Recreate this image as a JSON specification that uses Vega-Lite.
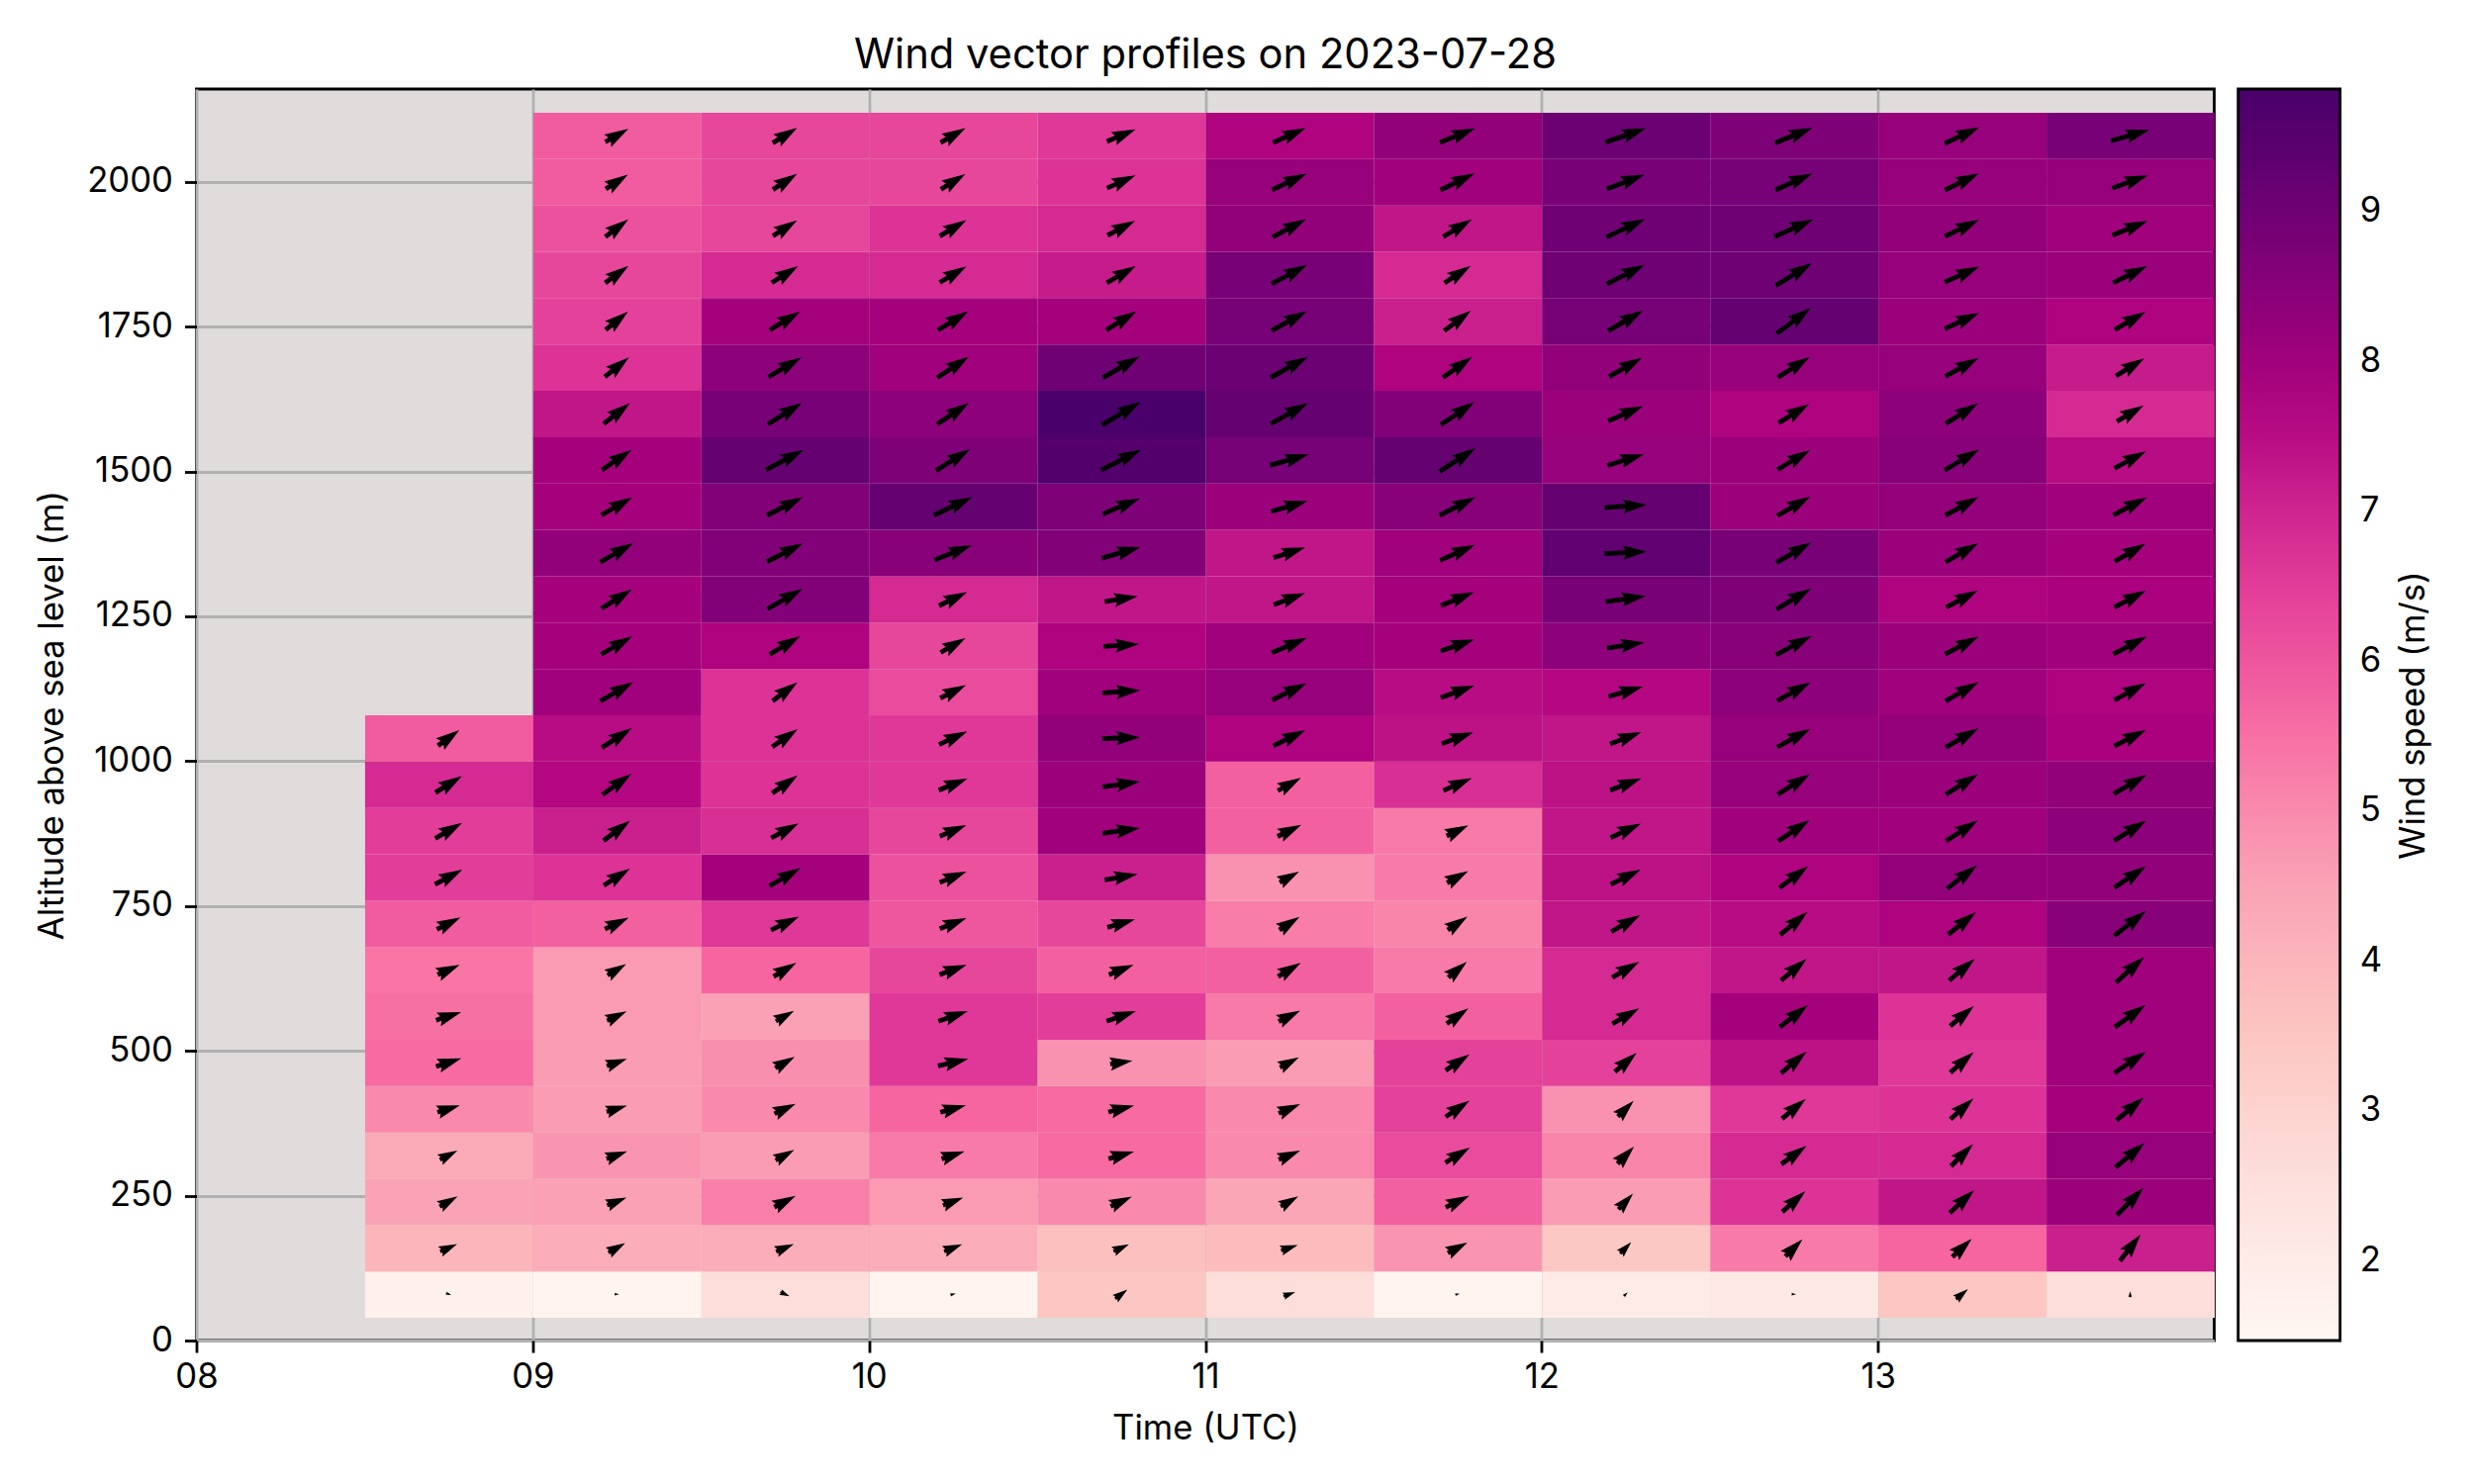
{
"$schema": "https://vega.github.io/schema/vega-lite/v6.json",
"width": 2039, "height": 1265,
"autosize": {"type": "none"},
"padding": {"left": 198.5, "top": 90, "right": 262.5, "bottom": 145},
"background": "white",
"config": {
  "font": "Inter",
  "view": {"fill": "#e0dcdc", "stroke": "black", "strokeWidth": 2.8},
  "axis": {"labelFontSize": 34.7, "titleFontSize": 34.7, "titleFontWeight": "normal", "labelColor": "black", "titleColor": "black", "tickColor": "black", "tickWidth": 2.8, "tickSize": 12, "domain": false, "gridColor": "#b0b0b0", "gridWidth": 2.8, "labelFlush": false, "labelOverlap": false, "zindex": 0},
  "legend": {"labelFontSize": 34.7, "titleFontSize": 34.7, "titleFontWeight": "normal", "labelColor": "black", "titleColor": "black"}
},
"title": {"text": "Wind vector profiles on 2023-07-28", "fontSize": 41.7, "fontWeight": "normal", "anchor": "middle", "frame": "group", "offset": 21, "dy": 42, "baseline": "alphabetic", "color": "black"},
"resolve": {"axis": {"y": "independent"}},
"data": {"values": [
{"hour":8.75,"alt":80,"speed":1.8,"dir":290,"vec":1.2},
{"hour":8.75,"alt":160,"speed":4.0,"dir":246,"vec":4.0},
{"hour":8.75,"alt":240,"speed":4.5,"dir":240,"vec":4.5},
{"hour":8.75,"alt":320,"speed":4.3,"dir":242,"vec":4.3},
{"hour":8.75,"alt":400,"speed":5.0,"dir":253,"vec":5.0},
{"hour":8.75,"alt":480,"speed":5.6,"dir":252,"vec":5.6},
{"hour":8.75,"alt":560,"speed":5.5,"dir":252,"vec":5.5},
{"hour":8.75,"alt":640,"speed":5.4,"dir":246,"vec":5.4},
{"hour":8.75,"alt":720,"speed":5.9,"dir":243,"vec":5.9},
{"hour":8.75,"alt":800,"speed":6.5,"dir":242,"vec":6.5},
{"hour":8.75,"alt":880,"speed":6.5,"dir":240,"vec":6.5},
{"hour":8.75,"alt":960,"speed":6.9,"dir":238,"vec":6.9},
{"hour":8.75,"alt":1040,"speed":5.9,"dir":234,"vec":5.9},
{"hour":9.25,"alt":80,"speed":1.6,"dir":270,"vec":1.0},
{"hour":9.25,"alt":160,"speed":4.2,"dir":240,"vec":4.2},
{"hour":9.25,"alt":240,"speed":4.55,"dir":248,"vec":4.55},
{"hour":9.25,"alt":320,"speed":4.8,"dir":250,"vec":4.8},
{"hour":9.25,"alt":400,"speed":4.65,"dir":253,"vec":4.65},
{"hour":9.25,"alt":480,"speed":4.65,"dir":250,"vec":4.65},
{"hour":9.25,"alt":560,"speed":4.7,"dir":244,"vec":4.7},
{"hour":9.25,"alt":640,"speed":4.7,"dir":239,"vec":4.7},
{"hour":9.25,"alt":720,"speed":5.8,"dir":244,"vec":5.8},
{"hour":9.25,"alt":800,"speed":6.7,"dir":237,"vec":6.7},
{"hour":9.25,"alt":880,"speed":7.1,"dir":233,"vec":7.1},
{"hour":9.25,"alt":960,"speed":7.6,"dir":234,"vec":7.6},
{"hour":9.25,"alt":1040,"speed":7.5,"dir":237,"vec":7.5},
{"hour":9.25,"alt":1120,"speed":8.0,"dir":240,"vec":8.0},
{"hour":9.25,"alt":1200,"speed":7.9,"dir":240,"vec":7.9},
{"hour":9.25,"alt":1280,"speed":7.9,"dir":238,"vec":7.9},
{"hour":9.25,"alt":1360,"speed":8.3,"dir":240,"vec":8.3},
{"hour":9.25,"alt":1440,"speed":7.9,"dir":240,"vec":7.9},
{"hour":9.25,"alt":1520,"speed":7.9,"dir":236,"vec":7.9},
{"hour":9.25,"alt":1600,"speed":7.3,"dir":232,"vec":7.3},
{"hour":9.25,"alt":1680,"speed":6.7,"dir":231,"vec":6.7},
{"hour":9.25,"alt":1760,"speed":6.4,"dir":231,"vec":6.4},
{"hour":9.25,"alt":1840,"speed":6.3,"dir":234,"vec":6.3},
{"hour":9.25,"alt":1920,"speed":6.1,"dir":233,"vec":6.1},
{"hour":9.25,"alt":2000,"speed":5.9,"dir":237,"vec":5.9},
{"hour":9.25,"alt":2080,"speed":5.9,"dir":240,"vec":5.9},
{"hour":9.75,"alt":80,"speed":2.6,"dir":295,"vec":2.2},
{"hour":9.75,"alt":160,"speed":4.2,"dir":247,"vec":4.2},
{"hour":9.75,"alt":240,"speed":5.2,"dir":242,"vec":5.2},
{"hour":9.75,"alt":320,"speed":4.65,"dir":241,"vec":4.65},
{"hour":9.75,"alt":400,"speed":5.0,"dir":245,"vec":5.0},
{"hour":9.75,"alt":480,"speed":4.9,"dir":240,"vec":4.9},
{"hour":9.75,"alt":560,"speed":4.55,"dir":240,"vec":4.55},
{"hour":9.75,"alt":640,"speed":5.7,"dir":239,"vec":5.7},
{"hour":9.75,"alt":720,"speed":6.6,"dir":244,"vec":6.6},
{"hour":9.75,"alt":800,"speed":7.9,"dir":240,"vec":7.9},
{"hour":9.75,"alt":880,"speed":6.8,"dir":242,"vec":6.8},
{"hour":9.75,"alt":960,"speed":6.7,"dir":235,"vec":6.7},
{"hour":9.75,"alt":1040,"speed":6.7,"dir":235,"vec":6.7},
{"hour":9.75,"alt":1120,"speed":6.7,"dir":233,"vec":6.7},
{"hour":9.75,"alt":1200,"speed":7.7,"dir":239,"vec":7.7},
{"hour":9.75,"alt":1280,"speed":8.6,"dir":240,"vec":8.6},
{"hour":9.75,"alt":1360,"speed":8.6,"dir":243,"vec":8.6},
{"hour":9.75,"alt":1440,"speed":8.6,"dir":243,"vec":8.6},
{"hour":9.75,"alt":1520,"speed":9.2,"dir":242,"vec":9.2},
{"hour":9.75,"alt":1600,"speed":8.8,"dir":238,"vec":8.8},
{"hour":9.75,"alt":1680,"speed":8.4,"dir":239,"vec":8.4},
{"hour":9.75,"alt":1760,"speed":7.9,"dir":239,"vec":7.9},
{"hour":9.75,"alt":1840,"speed":6.9,"dir":238,"vec":6.9},
{"hour":9.75,"alt":1920,"speed":6.3,"dir":237,"vec":6.3},
{"hour":9.75,"alt":2000,"speed":6.3,"dir":237,"vec":6.3},
{"hour":9.75,"alt":2080,"speed":6.3,"dir":238,"vec":6.3},
{"hour":10.25,"alt":80,"speed":1.6,"dir":255,"vec":1.2},
{"hour":10.25,"alt":160,"speed":4.2,"dir":248,"vec":4.2},
{"hour":10.25,"alt":240,"speed":4.7,"dir":249,"vec":4.7},
{"hour":10.25,"alt":320,"speed":5.3,"dir":252,"vec":5.3},
{"hour":10.25,"alt":400,"speed":5.7,"dir":255,"vec":5.7},
{"hour":10.25,"alt":480,"speed":6.6,"dir":257,"vec":6.6},
{"hour":10.25,"alt":560,"speed":6.6,"dir":251,"vec":6.6},
{"hour":10.25,"alt":640,"speed":6.3,"dir":250,"vec":6.3},
{"hour":10.25,"alt":720,"speed":6.0,"dir":248,"vec":6.0},
{"hour":10.25,"alt":800,"speed":6.1,"dir":248,"vec":6.1},
{"hour":10.25,"alt":880,"speed":6.3,"dir":247,"vec":6.3},
{"hour":10.25,"alt":960,"speed":6.6,"dir":248,"vec":6.6},
{"hour":10.25,"alt":1040,"speed":6.6,"dir":245,"vec":6.6},
{"hour":10.25,"alt":1120,"speed":6.2,"dir":243,"vec":6.2},
{"hour":10.25,"alt":1200,"speed":6.3,"dir":240,"vec":6.3},
{"hour":10.25,"alt":1280,"speed":6.9,"dir":244,"vec":6.9},
{"hour":10.25,"alt":1360,"speed":8.5,"dir":248,"vec":8.5},
{"hour":10.25,"alt":1440,"speed":9.2,"dir":245,"vec":9.2},
{"hour":10.25,"alt":1520,"speed":8.7,"dir":238,"vec":8.7},
{"hour":10.25,"alt":1600,"speed":8.4,"dir":236,"vec":8.4},
{"hour":10.25,"alt":1680,"speed":8.0,"dir":236,"vec":8.0},
{"hour":10.25,"alt":1760,"speed":7.9,"dir":238,"vec":7.9},
{"hour":10.25,"alt":1840,"speed":6.9,"dir":239,"vec":6.9},
{"hour":10.25,"alt":1920,"speed":6.7,"dir":239,"vec":6.7},
{"hour":10.25,"alt":2000,"speed":6.3,"dir":238,"vec":6.3},
{"hour":10.25,"alt":2080,"speed":6.3,"dir":240,"vec":6.3},
{"hour":10.75,"alt":80,"speed":3.5,"dir":233,"vec":3.3},
{"hour":10.75,"alt":160,"speed":3.7,"dir":245,"vec":3.7},
{"hour":10.75,"alt":240,"speed":5.0,"dir":245,"vec":5.0},
{"hour":10.75,"alt":320,"speed":5.6,"dir":254,"vec":5.6},
{"hour":10.75,"alt":400,"speed":5.6,"dir":256,"vec":5.6},
{"hour":10.75,"alt":480,"speed":4.85,"dir":262,"vec":4.85},
{"hour":10.75,"alt":560,"speed":6.5,"dir":251,"vec":6.5},
{"hour":10.75,"alt":640,"speed":5.8,"dir":248,"vec":5.8},
{"hour":10.75,"alt":720,"speed":6.3,"dir":254,"vec":6.3},
{"hour":10.75,"alt":800,"speed":7.1,"dir":260,"vec":7.1},
{"hour":10.75,"alt":880,"speed":8.0,"dir":262,"vec":8.0},
{"hour":10.75,"alt":960,"speed":8.1,"dir":262,"vec":8.1},
{"hour":10.75,"alt":1040,"speed":8.3,"dir":268,"vec":8.3},
{"hour":10.75,"alt":1120,"speed":8.0,"dir":266,"vec":8.0},
{"hour":10.75,"alt":1200,"speed":7.7,"dir":266,"vec":7.7},
{"hour":10.75,"alt":1280,"speed":7.3,"dir":261,"vec":7.3},
{"hour":10.75,"alt":1360,"speed":8.6,"dir":254,"vec":8.6},
{"hour":10.75,"alt":1440,"speed":8.7,"dir":247,"vec":8.7},
{"hour":10.75,"alt":1520,"speed":9.6,"dir":243,"vec":9.6},
{"hour":10.75,"alt":1600,"speed":9.8,"dir":239,"vec":9.8},
{"hour":10.75,"alt":1680,"speed":9.0,"dir":240,"vec":9.0},
{"hour":10.75,"alt":1760,"speed":7.9,"dir":238,"vec":7.9},
{"hour":10.75,"alt":1840,"speed":7.2,"dir":240,"vec":7.2},
{"hour":10.75,"alt":1920,"speed":6.9,"dir":242,"vec":6.9},
{"hour":10.75,"alt":2000,"speed":6.7,"dir":246,"vec":6.7},
{"hour":10.75,"alt":2080,"speed":6.6,"dir":247,"vec":6.6},
{"hour":11.25,"alt":80,"speed":2.6,"dir":250,"vec":2.7},
{"hour":11.25,"alt":160,"speed":3.8,"dir":252,"vec":3.8},
{"hour":11.25,"alt":240,"speed":4.4,"dir":240,"vec":4.4},
{"hour":11.25,"alt":320,"speed":5.0,"dir":247,"vec":5.0},
{"hour":11.25,"alt":400,"speed":5.0,"dir":247,"vec":5.0},
{"hour":11.25,"alt":480,"speed":4.65,"dir":242,"vec":4.65},
{"hour":11.25,"alt":560,"speed":5.3,"dir":243,"vec":5.3},
{"hour":11.25,"alt":640,"speed":5.8,"dir":239,"vec":5.8},
{"hour":11.25,"alt":720,"speed":5.25,"dir":237,"vec":5.25},
{"hour":11.25,"alt":800,"speed":4.85,"dir":241,"vec":4.85},
{"hour":11.25,"alt":880,"speed":5.8,"dir":244,"vec":5.8},
{"hour":11.25,"alt":960,"speed":5.8,"dir":241,"vec":5.8},
{"hour":11.25,"alt":1040,"speed":7.7,"dir":244,"vec":7.7},
{"hour":11.25,"alt":1120,"speed":8.2,"dir":244,"vec":8.2},
{"hour":11.25,"alt":1200,"speed":8.0,"dir":247,"vec":8.0},
{"hour":11.25,"alt":1280,"speed":7.3,"dir":250,"vec":7.3},
{"hour":11.25,"alt":1360,"speed":7.3,"dir":252,"vec":7.3},
{"hour":11.25,"alt":1440,"speed":8.1,"dir":254,"vec":8.1},
{"hour":11.25,"alt":1520,"speed":8.85,"dir":254,"vec":8.85},
{"hour":11.25,"alt":1600,"speed":9.2,"dir":241,"vec":9.2},
{"hour":11.25,"alt":1680,"speed":9.1,"dir":241,"vec":9.1},
{"hour":11.25,"alt":1760,"speed":8.85,"dir":241,"vec":8.85},
{"hour":11.25,"alt":1840,"speed":8.8,"dir":242,"vec":8.8},
{"hour":11.25,"alt":1920,"speed":8.3,"dir":242,"vec":8.3},
{"hour":11.25,"alt":2000,"speed":8.2,"dir":245,"vec":8.2},
{"hour":11.25,"alt":2080,"speed":7.7,"dir":246,"vec":7.7},
{"hour":11.75,"alt":80,"speed":1.6,"dir":260,"vec":1.0},
{"hour":11.75,"alt":160,"speed":4.8,"dir":242,"vec":4.8},
{"hour":11.75,"alt":240,"speed":5.8,"dir":244,"vec":5.8},
{"hour":11.75,"alt":320,"speed":6.2,"dir":238,"vec":6.2},
{"hour":11.75,"alt":400,"speed":6.4,"dir":236,"vec":6.4},
{"hour":11.75,"alt":480,"speed":6.4,"dir":236,"vec":6.4},
{"hour":11.75,"alt":560,"speed":5.8,"dir":235,"vec":5.8},
{"hour":11.75,"alt":640,"speed":5.3,"dir":230,"vec":5.3},
{"hour":11.75,"alt":720,"speed":5.1,"dir":236,"vec":5.1},
{"hour":11.75,"alt":800,"speed":5.3,"dir":241,"vec":5.3},
{"hour":11.75,"alt":880,"speed":5.3,"dir":244,"vec":5.3},
{"hour":11.75,"alt":960,"speed":6.8,"dir":246,"vec":6.8},
{"hour":11.75,"alt":1040,"speed":7.4,"dir":250,"vec":7.4},
{"hour":11.75,"alt":1120,"speed":7.5,"dir":250,"vec":7.5},
{"hour":11.75,"alt":1200,"speed":7.9,"dir":251,"vec":7.9},
{"hour":11.75,"alt":1280,"speed":7.9,"dir":248,"vec":7.9},
{"hour":11.75,"alt":1360,"speed":8.0,"dir":246,"vec":8.0},
{"hour":11.75,"alt":1440,"speed":8.5,"dir":243,"vec":8.5},
{"hour":11.75,"alt":1520,"speed":9.2,"dir":237,"vec":9.2},
{"hour":11.75,"alt":1600,"speed":8.6,"dir":236,"vec":8.6},
{"hour":11.75,"alt":1680,"speed":7.7,"dir":235,"vec":7.7},
{"hour":11.75,"alt":1760,"speed":7.1,"dir":233,"vec":7.1},
{"hour":11.75,"alt":1840,"speed":6.9,"dir":237,"vec":6.9},
{"hour":11.75,"alt":1920,"speed":7.3,"dir":239,"vec":7.3},
{"hour":11.75,"alt":2000,"speed":8.0,"dir":244,"vec":8.0},
{"hour":11.75,"alt":2080,"speed":8.3,"dir":248,"vec":8.3},
{"hour":12.25,"alt":80,"speed":2.0,"dir":225,"vec":1.2},
{"hour":12.25,"alt":160,"speed":3.45,"dir":224,"vec":3.45},
{"hour":12.25,"alt":240,"speed":4.65,"dir":223,"vec":4.65},
{"hour":12.25,"alt":320,"speed":5.1,"dir":224,"vec":5.1},
{"hour":12.25,"alt":400,"speed":4.85,"dir":225,"vec":4.85},
{"hour":12.25,"alt":480,"speed":6.4,"dir":229,"vec":6.4},
{"hour":12.25,"alt":560,"speed":6.9,"dir":240,"vec":6.9},
{"hour":12.25,"alt":640,"speed":6.9,"dir":240,"vec":6.9},
{"hour":12.25,"alt":720,"speed":7.3,"dir":240,"vec":7.3},
{"hour":12.25,"alt":800,"speed":7.4,"dir":244,"vec":7.4},
{"hour":12.25,"alt":880,"speed":7.3,"dir":245,"vec":7.3},
{"hour":12.25,"alt":960,"speed":7.4,"dir":249,"vec":7.4},
{"hour":12.25,"alt":1040,"speed":7.3,"dir":249,"vec":7.3},
{"hour":12.25,"alt":1120,"speed":7.6,"dir":254,"vec":7.6},
{"hour":12.25,"alt":1200,"speed":8.4,"dir":261,"vec":8.4},
{"hour":12.25,"alt":1280,"speed":8.8,"dir":262,"vec":8.8},
{"hour":12.25,"alt":1360,"speed":9.3,"dir":267,"vec":9.3},
{"hour":12.25,"alt":1440,"speed":9.2,"dir":266,"vec":9.2},
{"hour":12.25,"alt":1520,"speed":8.2,"dir":253,"vec":8.2},
{"hour":12.25,"alt":1600,"speed":8.1,"dir":247,"vec":8.1},
{"hour":12.25,"alt":1680,"speed":8.3,"dir":240,"vec":8.3},
{"hour":12.25,"alt":1760,"speed":8.85,"dir":240,"vec":8.85},
{"hour":12.25,"alt":1840,"speed":9.0,"dir":243,"vec":9.0},
{"hour":12.25,"alt":1920,"speed":9.0,"dir":245,"vec":9.0},
{"hour":12.25,"alt":2000,"speed":8.8,"dir":249,"vec":8.8},
{"hour":12.25,"alt":2080,"speed":9.1,"dir":251,"vec":9.1},
{"hour":12.75,"alt":80,"speed":2.1,"dir":270,"vec":1.0},
{"hour":12.75,"alt":160,"speed":5.3,"dir":225,"vec":5.3},
{"hour":12.75,"alt":240,"speed":6.7,"dir":228,"vec":6.7},
{"hour":12.75,"alt":320,"speed":6.9,"dir":234,"vec":6.9},
{"hour":12.75,"alt":400,"speed":6.6,"dir":230,"vec":6.6},
{"hour":12.75,"alt":480,"speed":7.4,"dir":230,"vec":7.4},
{"hour":12.75,"alt":560,"speed":7.9,"dir":232,"vec":7.9},
{"hour":12.75,"alt":640,"speed":7.3,"dir":230,"vec":7.3},
{"hour":12.75,"alt":720,"speed":7.5,"dir":230,"vec":7.5},
{"hour":12.75,"alt":800,"speed":7.7,"dir":233,"vec":7.7},
{"hour":12.75,"alt":880,"speed":8.0,"dir":236,"vec":8.0},
{"hour":12.75,"alt":960,"speed":8.2,"dir":238,"vec":8.2},
{"hour":12.75,"alt":1040,"speed":8.2,"dir":241,"vec":8.2},
{"hour":12.75,"alt":1120,"speed":8.4,"dir":241,"vec":8.4},
{"hour":12.75,"alt":1200,"speed":8.5,"dir":242,"vec":8.5},
{"hour":12.75,"alt":1280,"speed":8.7,"dir":239,"vec":8.7},
{"hour":12.75,"alt":1360,"speed":8.8,"dir":240,"vec":8.8},
{"hour":12.75,"alt":1440,"speed":8.1,"dir":240,"vec":8.1},
{"hour":12.75,"alt":1520,"speed":8.1,"dir":239,"vec":8.1},
{"hour":12.75,"alt":1600,"speed":7.7,"dir":238,"vec":7.7},
{"hour":12.75,"alt":1680,"speed":8.2,"dir":237,"vec":8.2},
{"hour":12.75,"alt":1760,"speed":9.2,"dir":233,"vec":9.2},
{"hour":12.75,"alt":1840,"speed":9.0,"dir":238,"vec":9.0},
{"hour":12.75,"alt":1920,"speed":9.0,"dir":246,"vec":9.0},
{"hour":12.75,"alt":2000,"speed":8.85,"dir":246,"vec":8.85},
{"hour":12.75,"alt":2080,"speed":8.7,"dir":248,"vec":8.7},
{"hour":13.25,"alt":80,"speed":3.5,"dir":230,"vec":3.4},
{"hour":13.25,"alt":160,"speed":5.7,"dir":227,"vec":5.7},
{"hour":13.25,"alt":240,"speed":7.3,"dir":227,"vec":7.3},
{"hour":13.25,"alt":320,"speed":6.9,"dir":225,"vec":6.9},
{"hour":13.25,"alt":400,"speed":6.7,"dir":228,"vec":6.7},
{"hour":13.25,"alt":480,"speed":6.6,"dir":229,"vec":6.6},
{"hour":13.25,"alt":560,"speed":6.7,"dir":230,"vec":6.7},
{"hour":13.25,"alt":640,"speed":7.3,"dir":230,"vec":7.3},
{"hour":13.25,"alt":720,"speed":7.7,"dir":231,"vec":7.7},
{"hour":13.25,"alt":800,"speed":8.25,"dir":232,"vec":8.25},
{"hour":13.25,"alt":880,"speed":8.0,"dir":237,"vec":8.0},
{"hour":13.25,"alt":960,"speed":8.1,"dir":238,"vec":8.1},
{"hour":13.25,"alt":1040,"speed":8.25,"dir":240,"vec":8.25},
{"hour":13.25,"alt":1120,"speed":8.0,"dir":240,"vec":8.0},
{"hour":13.25,"alt":1200,"speed":8.1,"dir":242,"vec":8.1},
{"hour":13.25,"alt":1280,"speed":7.7,"dir":242,"vec":7.7},
{"hour":13.25,"alt":1360,"speed":8.1,"dir":240,"vec":8.1},
{"hour":13.25,"alt":1440,"speed":8.25,"dir":241,"vec":8.25},
{"hour":13.25,"alt":1520,"speed":8.5,"dir":239,"vec":8.5},
{"hour":13.25,"alt":1600,"speed":8.4,"dir":238,"vec":8.4},
{"hour":13.25,"alt":1680,"speed":8.2,"dir":241,"vec":8.2},
{"hour":13.25,"alt":1760,"speed":8.1,"dir":245,"vec":8.1},
{"hour":13.25,"alt":1840,"speed":8.2,"dir":246,"vec":8.2},
{"hour":13.25,"alt":1920,"speed":8.3,"dir":244,"vec":8.3},
{"hour":13.25,"alt":2000,"speed":8.2,"dir":244,"vec":8.2},
{"hour":13.25,"alt":2080,"speed":8.2,"dir":245,"vec":8.2},
{"hour":13.75,"alt":80,"speed":2.6,"dir":180,"vec":1.3},
{"hour":13.75,"alt":160,"speed":7.1,"dir":218,"vec":7.1},
{"hour":13.75,"alt":240,"speed":8.1,"dir":224,"vec":8.1},
{"hour":13.75,"alt":320,"speed":8.2,"dir":230,"vec":8.2},
{"hour":13.75,"alt":400,"speed":7.9,"dir":230,"vec":7.9},
{"hour":13.75,"alt":480,"speed":8.0,"dir":236,"vec":8.0},
{"hour":13.75,"alt":560,"speed":8.0,"dir":234,"vec":8.0},
{"hour":13.75,"alt":640,"speed":8.0,"dir":228,"vec":8.0},
{"hour":13.75,"alt":720,"speed":8.5,"dir":232,"vec":8.5},
{"hour":13.75,"alt":800,"speed":8.3,"dir":236,"vec":8.3},
{"hour":13.75,"alt":880,"speed":8.4,"dir":238,"vec":8.4},
{"hour":13.75,"alt":960,"speed":8.3,"dir":240,"vec":8.3},
{"hour":13.75,"alt":1040,"speed":7.8,"dir":243,"vec":7.8},
{"hour":13.75,"alt":1120,"speed":7.7,"dir":242,"vec":7.7},
{"hour":13.75,"alt":1200,"speed":8.0,"dir":242,"vec":8.0},
{"hour":13.75,"alt":1280,"speed":7.8,"dir":242,"vec":7.8},
{"hour":13.75,"alt":1360,"speed":7.9,"dir":240,"vec":7.9},
{"hour":13.75,"alt":1440,"speed":8.0,"dir":242,"vec":8.0},
{"hour":13.75,"alt":1520,"speed":7.5,"dir":242,"vec":7.5},
{"hour":13.75,"alt":1600,"speed":6.9,"dir":239,"vec":6.9},
{"hour":13.75,"alt":1680,"speed":7.2,"dir":238,"vec":7.2},
{"hour":13.75,"alt":1760,"speed":7.7,"dir":240,"vec":7.7},
{"hour":13.75,"alt":1840,"speed":8.1,"dir":244,"vec":8.1},
{"hour":13.75,"alt":1920,"speed":8.0,"dir":248,"vec":8.0},
{"hour":13.75,"alt":2000,"speed":8.2,"dir":250,"vec":8.2},
{"hour":13.75,"alt":2080,"speed":8.8,"dir":254,"vec":8.8}
]},
"layer": [
 {
  "mark": {"type": "rect", "binSpacing": 0},
  "encoding": {
   "x": {"field": "hour", "type": "quantitative", "bin": {"step": 0.5, "anchor": 8, "extent": [8, 14]}, "scale": {"domain": [8, 14], "nice": false, "zero": false},
     "axis": {"values": [8, 9, 10, 11, 12, 13], "format": "02d", "labelPadding": 8, "title": "Time (UTC)", "titleY": 89, "titleBaseline": "middle", "grid": true, "zindex": 0}},
   "y": {"field": "alt", "type": "quantitative", "bin": {"step": 80, "anchor": 40, "extent": [0, 2160]}, "scale": {"domain": [0, 2160], "nice": false, "zero": false},
     "axis": {"orient": "right", "values": [1000], "labels": false, "ticks": false, "grid": false, "domain": false, "title": "Wind speed (m/s)", "titleX": 201.5, "titleY": 632.5, "titleAngle": 270, "titleBaseline": "middle", "titleAlign": "center", "zindex": 0}},
   "color": {"field": "speed", "type": "quantitative",
     "scale": {"domain": [1.47, 2.514, 3.557, 4.601, 5.645, 6.689, 7.733, 8.776, 9.82], "range": ["#fff7f3", "#fde0dd", "#fcc5c0", "#fa9fb5", "#f768a1", "#dd3497", "#ae017e", "#7a0177", "#49006a"], "interpolate": "rgb"},
     "legend": {"title": null, "orient": "none", "legendX": 2063.2, "legendY": 0, "direction": "vertical", "gradientLength": 1265, "gradientThickness": 103, "values": [2, 3, 4, 5, 6, 7, 8, 9], "format": "d", "labelOffset": 20, "labelOverlap": false, "gradientStrokeColor": "black", "gradientStrokeWidth": 2.8, "padding": 0, "offset": 0}
   }
  }
 },
 {
  "transform": [{"bin": {"step": 0.5, "anchor": 0, "extent": [0, 10.5]}, "field": "vec", "as": "vbin"}],
  "mark": {"type": "point", "filled": true, "opacity": 1, "color": "black", "strokeWidth": 0},
  "encoding": {
   "x": {"field": "hour", "type": "quantitative", "scale": {"domain": [8, 14], "nice": false, "zero": false},
     "axis": {"values": [8, 9, 10, 11, 12, 13], "format": "02d", "labelPadding": 8, "title": "Time (UTC)", "titleY": 89, "titleBaseline": "middle", "grid": true, "zindex": 0}},
   "y": {"field": "alt", "type": "quantitative", "scale": {"domain": [0, 2160], "nice": false, "zero": false},
     "axis": {"orient": "left", "values": [0, 250, 500, 750, 1000, 1250, 1500, 1750, 2000], "format": "d", "labelPadding": 12, "title": "Altitude above sea level (m)", "titleX": -145.5, "titleY": 632.5, "titleAngle": 270, "titleBaseline": "middle", "grid": true, "zindex": 0}},
   "angle": {"field": "dir", "type": "quantitative", "scale": {"domain": [0, 360], "range": [90, 450]}},
   "size": {"field": "vec", "type": "quantitative", "scale": {"type": "pow", "exponent": 2, "domain": [0, 5.16, 10], "range": [0, 4, 4]}, "legend": null},
   "shape": {"field": "vbin", "type": "ordinal", "legend": null,
     "scale": {"domain": [0, 0.5, 1, 1.5, 2, 2.5, 3, 3.5, 4, 4.5, 5, 5.5, 6, 6.5, 7, 7.5, 8, 8.5, 9, 9.5, 10],
       "range": [
        "M-12,-2.4L-9.6,-2.4L-12,-7.2L12,0L-12,7.2L-9.6,2.4L-12,2.4Z",
        "M-12,-2.4L-9.6,-2.4L-12,-7.2L12,0L-12,7.2L-9.6,2.4L-12,2.4Z",
        "M-12,-2.4L-9.6,-2.4L-12,-7.2L12,0L-12,7.2L-9.6,2.4L-12,2.4Z",
        "M-12,-2.4L-9.6,-2.4L-12,-7.2L12,0L-12,7.2L-9.6,2.4L-12,2.4Z",
        "M-12,-2.4L-9.6,-2.4L-12,-7.2L12,0L-12,7.2L-9.6,2.4L-12,2.4Z",
        "M-12,-2.4L-9.6,-2.4L-12,-7.2L12,0L-12,7.2L-9.6,2.4L-12,2.4Z",
        "M-12,-2.4L-9.6,-2.4L-12,-7.2L12,0L-12,7.2L-9.6,2.4L-12,2.4Z",
        "M-12,-2.4L-9.6,-2.4L-12,-7.2L12,0L-12,7.2L-9.6,2.4L-12,2.4Z",
        "M-12,-2.4L-9.6,-2.4L-12,-7.2L12,0L-12,7.2L-9.6,2.4L-12,2.4Z",
        "M-12,-2.4L-9.6,-2.4L-12,-7.2L12,0L-12,7.2L-9.6,2.4L-12,2.4Z",
        "M-12.2,-2.4L-9.4,-2.4L-11.8,-7.2L12.2,0L-11.8,7.2L-9.4,2.4L-12.2,2.4Z",
        "M-13.37,-2.4L-8.23,-2.4L-10.63,-7.2L13.37,0L-10.63,7.2L-8.23,2.4L-13.37,2.4Z",
        "M-14.53,-2.4L-7.07,-2.4L-9.47,-7.2L14.53,0L-9.47,7.2L-7.07,2.4L-14.53,2.4Z",
        "M-15.69,-2.4L-5.91,-2.4L-8.31,-7.2L15.69,0L-8.31,7.2L-5.91,2.4L-15.69,2.4Z",
        "M-16.86,-2.4L-4.74,-2.4L-7.14,-7.2L16.86,0L-7.14,7.2L-4.74,2.4L-16.86,2.4Z",
        "M-18.02,-2.4L-3.58,-2.4L-5.98,-7.2L18.02,0L-5.98,7.2L-3.58,2.4L-18.02,2.4Z",
        "M-19.18,-2.4L-2.42,-2.4L-4.82,-7.2L19.18,0L-4.82,7.2L-2.42,2.4L-19.18,2.4Z",
        "M-20.34,-2.4L-1.26,-2.4L-3.66,-7.2L20.34,0L-3.66,7.2L-1.26,2.4L-20.34,2.4Z",
        "M-21.51,-2.4L-0.09,-2.4L-2.49,-7.2L21.51,0L-2.49,7.2L-0.09,2.4L-21.51,2.4Z",
        "M-22.67,-2.4L1.07,-2.4L-1.33,-7.2L22.67,0L-1.33,7.2L1.07,2.4L-22.67,2.4Z",
        "M-23.83,-2.4L2.23,-2.4L-0.17,-7.2L23.83,0L-0.17,7.2L2.23,2.4L-23.83,2.4Z"
       ]}}
  }
 }
]
}
